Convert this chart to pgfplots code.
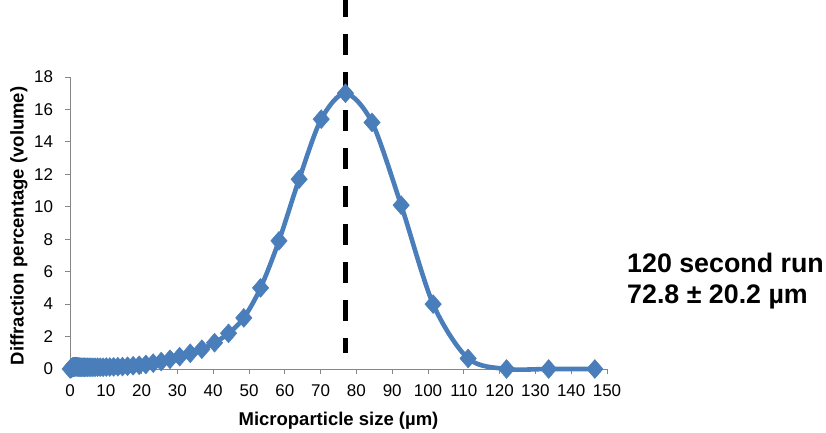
\documentclass[border=0pt]{standalone}
\usepackage{pgfplots}
\pgfplotsset{compat=1.18}
\usepackage{fontspec}
\setmainfont{Liberation Sans}
\definecolor{xlblue}{HTML}{4A7EBB}
\definecolor{axgray}{HTML}{868686}
\begin{document}
\begin{tikzpicture}[x=1pt,y=1pt]
\useasboundingbox (0,0) rectangle (826,432);
\begin{axis}[
  at={(70pt,63pt)}, anchor=south west,
  scale only axis, width=537pt, height=292pt,
  xmin=0, xmax=150, ymin=0, ymax=18,
  xtick={0,10,...,150}, ytick={0,2,...,18},
  axis x line*=bottom, axis y line*=left,
  axis line style={axgray, line width=1pt, -},
  tick style={axgray, line width=1pt},
  tick align=outside, major tick length=5pt,
  /pgf/number format/assume math mode=true,
  ticklabel style={font=\fontsize{17}{17}\selectfont, text=black},
  xticklabel style={yshift=-7.5pt},
  yticklabel style={xshift=-8.5pt},
  xlabel={Microparticle size (µm)},
  ylabel={Diffraction percentage (volume)},
  label style={font=\bfseries\fontsize{18.5}{18.5}\selectfont},
  xlabel style={at={(axis description cs:0.5,-0.177)}, anchor=center},
  ylabel style={at={(axis description cs:-0.095,0.49)}, anchor=center},
  clip=false,
]
\addplot[xlblue, line width=4.6pt, smooth, tension=0.5,
  mark=square*, mark size=5.8pt, mark options={yscale=1.15, rotate=45, fill=xlblue, draw=xlblue, line width=0.5pt}]
coordinates {
(0.05,0.0) (0.35,0.05) (0.40,0.06) (0.44,0.07) (0.48,0.08) (0.53,0.08) (0.58,0.09) (0.64,0.10) (0.70,0.10) (0.77,0.11) (0.84,0.11) (0.92,0.12) (1.01,0.12) (1.11,0.13) (1.22,0.13) (1.34,0.13) (1.47,0.14) (1.61,0.14) (1.76,0.14) (1.93,0.13) (2.12,0.13) (2.32,0.12) (2.55,0.12) (2.79,0.11) (3.06,0.11) (3.36,0.11) (3.68,0.11) (4.04,0.11) (4.43,0.11) (4.86,0.11) (5.32,0.11) (5.84,0.11) (6.40,0.11) (7.02,0.11) (7.70,0.11) (8.44,0.11) (9.25,0.11) (10.14,0.12) (11.12,0.12) (12.20,0.13) (13.37,0.14) (14.66,0.15) (16.08,0.17) (17.63,0.20) (19.33,0.23) (21.19,0.28) (23.24,0.36) (25.48,0.46) (27.94,0.60) (30.63,0.76) (33.59,0.97) (36.83,1.22) (40.38,1.62) (44.28,2.20) (48.55,3.15) (53.23,5.00) (58.37,7.90) (64.00,11.70) (70.17,15.40) (76.94,17.00) (84.36,15.20) (92.50,10.10) (101.43,4.00) (111.21,0.65) (121.94,0.0) (133.70,0.0) (146.6,0.0)
};
\draw[black, line width=5pt, dash pattern=on 21pt off 17pt] (axis cs:77,22.98) -- (axis cs:77,1.0);
\end{axis}
\node[anchor=base west, inner sep=0pt, font=\bfseries\fontsize{26.8}{26.8}\selectfont] at (627,160) {120 second run};
\node[anchor=base west, inner sep=0pt, font=\bfseries\fontsize{26.8}{26.8}\selectfont] at (627,129) {72.8 ± 20.2 µm};
\end{tikzpicture}
\end{document}
